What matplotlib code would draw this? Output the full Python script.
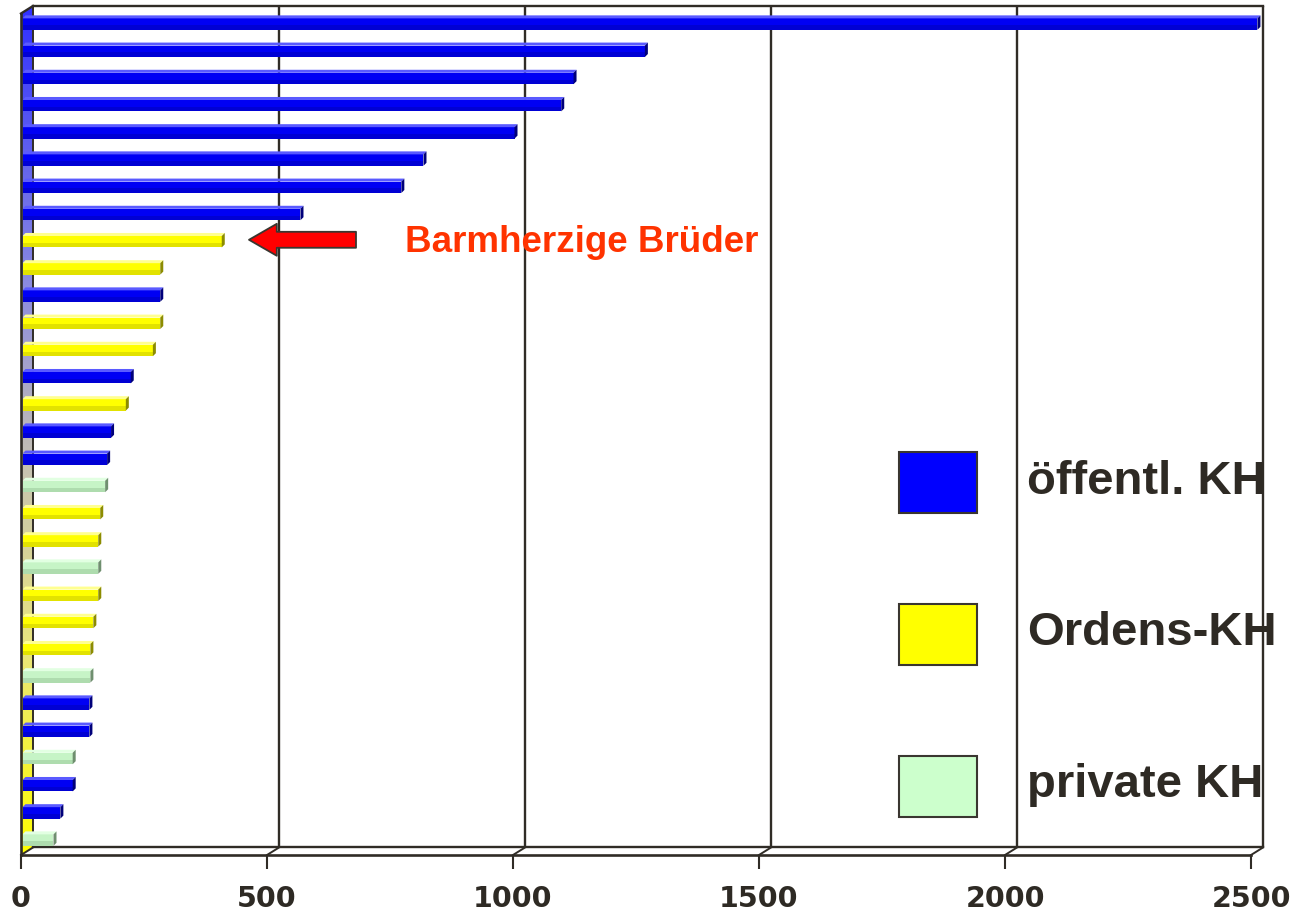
import matplotlib
matplotlib.use("Agg")
import matplotlib.pyplot as plt
import numpy as np
from matplotlib.patches import Polygon, Rectangle
from matplotlib.colors import LinearSegmentedColormap

# ---------------- data ----------------
kh_types = ["oe", "oe", "oe", "oe", "oe", "oe", "oe", "oe", "or", "or",
            "oe", "or", "or", "oe", "or", "oe", "oe", "pr", "or", "or",
            "pr", "or", "or", "or", "pr", "oe", "oe", "pr", "oe", "oe", "pr"]
values = [2510, 1265, 1120, 1095, 1000, 815, 770, 565, 405, 280,
          280, 280, 265, 220, 210, 180, 172, 168, 158, 154,
          154, 154, 144, 138, 138, 136, 136, 102, 102, 77, 63]
legend_labels = ["öffentl. KH", "Ordens-KH", "private KH"]
legend_keys = ["oe", "or", "pr"]
xticks = [0, 500, 1000, 1500, 2000, 2500]
highlight_index = 8
highlight_label = "Barmherzige Brüder"

# ---------------- styles ----------------
front_col = {"oe": "#0000F4", "or": "#FFFF00", "pr": "#C6F4C6"}
lower_col = {"oe": "#0000D4", "or": "#E2E200", "pr": "#AEDCAE"}
top_col = {"oe": "#5A5AFF", "or": "#FFFF90", "pr": "#E2FFE2"}
end_col = {"oe": "#00007A", "or": "#8C8C00", "pr": "#6F8F6F"}
legend_col = {"oe": "#0000FF", "or": "#FFFF00", "pr": "#CCFFCC"}
LINE = "#302C26"
TEXT = "#2E2A24"

W, H = 1296, 912
fig = plt.figure(figsize=(W / 100, H / 100), dpi=100)

# pixel geometry of the pseudo-3D box
px_per_unit = 0.492
x0_px = 21
DX_PX, DY_PX = 12, 7.5
row_px = 27.2
first_row_px = 24
top_px, bottom_px = 7, 856

DXu = DX_PX / px_per_unit
DYu = DY_PX / row_px
xmax = max(xticks)
ax_w_px = xmax * px_per_unit + DX_PX
ax = fig.add_axes([x0_px / W, (H - bottom_px) / H, ax_w_px / W, (bottom_px - top_px) / H])
y_top = (top_px - first_row_px) / row_px
y_bot = (bottom_px - first_row_px) / row_px
ax.set_xlim(0, xmax + DXu)
ax.set_ylim(y_bot, y_top)
for s in ax.spines.values():
    s.set_visible(False)
ax.set_yticks([])
ax.set_facecolor("white")

# left wall with gradient
wall = Polygon([(0, y_bot), (0, y_top + DYu), (DXu, y_top), (DXu, y_bot - DYu)],
               closed=True, facecolor="none", edgecolor="none")
ax.add_patch(wall)
cmap = LinearSegmentedColormap.from_list(
    "wall", [(0, "#3030FF"), (0.33, "#8C8CE0"), (0.55, "#C8C4B0"),
             (0.75, "#E8E480"), (1.0, "#FFFF00")])
grad = np.linspace(0, 1, 256).reshape(-1, 1)
im = ax.imshow(grad, cmap=cmap, aspect="auto", extent=[0, DXu, y_bot, y_top],
               origin="upper", zorder=1)
im.set_clip_path(wall)

# back gridlines and frame
for t in xticks[1:]:
    ax.plot([t + DXu, t + DXu], [y_top, y_bot - DYu], color=LINE, lw=1.7, zorder=1.5,
            clip_on=False, solid_capstyle="butt")
ax.plot([DXu, xmax + DXu], [y_top, y_top], color=LINE, lw=1.7, zorder=1.5, clip_on=False)
ax.plot([DXu, xmax + DXu], [y_bot - DYu, y_bot - DYu], color=LINE, lw=1.7, zorder=1.5, clip_on=False)
ax.plot([0, xmax], [y_bot, y_bot], color=LINE, lw=1.9, zorder=5, clip_on=False)
for t in xticks:
    ax.plot([t, t + DXu], [y_bot, y_bot - DYu], color=LINE, lw=1.4, zorder=5, clip_on=False)
# left wall edges
ax.plot([0, 0], [y_bot, y_top + DYu], color=LINE, lw=1.9, zorder=5, clip_on=False)
ax.plot([DXu, DXu], [y_bot - DYu, y_top], color=LINE, lw=1.4, zorder=1.6, clip_on=False)
ax.plot([0, DXu], [y_top + DYu, y_top], color=LINE, lw=1.7, zorder=5, clip_on=False)

# 3D bars
bh = 0.42           # front face height (rows)
yoff = -0.17        # top edge of the front face relative to row centre
ddx = 3 / px_per_unit
ddy = 3 / row_px
for i, (v, k) in enumerate(zip(values, kh_types)):
    ytop_f = i + yoff
    ax.barh(ytop_f + bh * 0.3, v, height=bh * 0.6, left=ddx * 0.5, color=front_col[k], zorder=3)
    ax.barh(ytop_f + bh * 0.8, v, height=bh * 0.4, left=ddx * 0.5, color=lower_col[k], zorder=3)
    x1 = v + ddx * 0.5
    ax.add_patch(Polygon([(ddx * 0.5, ytop_f), (x1, ytop_f), (x1 + ddx, ytop_f - ddy), (ddx * 1.5, ytop_f - ddy)],
                         closed=True, facecolor=top_col[k], edgecolor="none", zorder=3))
    ax.add_patch(Polygon([(x1, ytop_f), (x1 + ddx, ytop_f - ddy), (x1 + ddx, ytop_f + bh - ddy), (x1, ytop_f + bh)],
                         closed=True, facecolor=end_col[k], edgecolor="none", zorder=3))

# x ticks
ax.set_xticks(xticks)
ax.set_xticklabels([str(t) for t in xticks], fontsize=20.5, fontweight="bold",
                   color=TEXT, family="DejaVu Sans")
ax.tick_params(axis="x", length=10, width=1.5, color=LINE, pad=11, direction="out")

# arrow + annotation
arrow_tip = (249 - x0_px) / px_per_unit
arrow_tail = (356 - x0_px) / px_per_unit
ax.annotate("", xy=(arrow_tip, highlight_index - 0.03), xytext=(arrow_tail, highlight_index - 0.03),
            arrowprops=dict(arrowstyle="simple,head_length=20,head_width=23,tail_width=11.5",
                            mutation_scale=1, fc="#FF0000", ec="#3A3630", lw=1.3,
                            shrinkA=0, shrinkB=0), zorder=6)
ax.text((405 - x0_px) / px_per_unit, highlight_index + 0.38, highlight_label,
        fontsize=26.5, fontweight="bold", color="#FF3300", family="Liberation Sans",
        va="baseline", ha="left", zorder=6)

# legend
box_tops = [453, 605, 757]
baselines = [494, 645, 797]
for lab, key, bt, bl in zip(legend_labels, legend_keys, box_tops, baselines):
    fig.patches.append(Rectangle((899 / W, 1 - (bt + 61) / H), 78 / W, 61 / H,
                                 transform=fig.transFigure, facecolor=legend_col[key],
                                 edgecolor="#3A3630", lw=1.5, zorder=7))
    fig.text(1027 / W, 1 - bl / H, lab, fontsize=34, fontweight="bold", color=TEXT,
             family="Liberation Sans", va="baseline", ha="left", zorder=7)

fig.savefig("out.png", dpi=100)
